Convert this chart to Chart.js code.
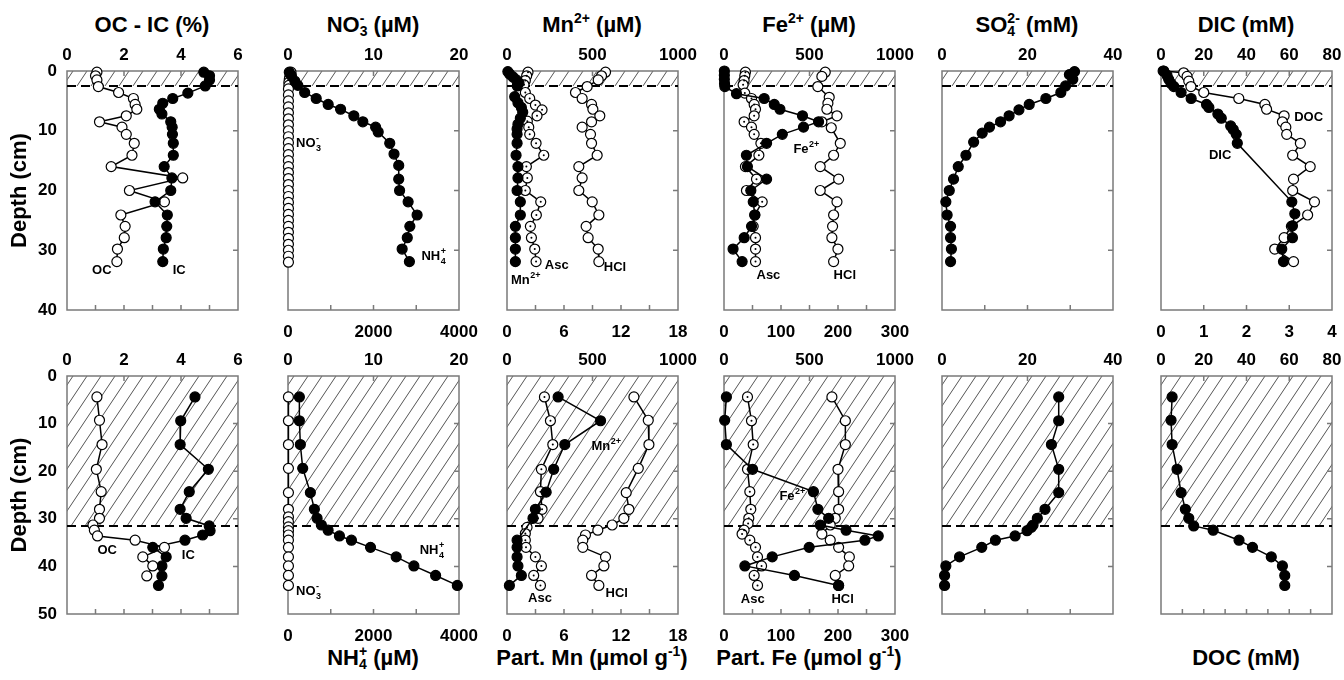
<!DOCTYPE html>
<html>
<head>
<meta charset="utf-8">
<script src="https://cdn.jsdelivr.net/npm/chart.js@4.4.1/dist/chart.umd.min.js"></script>
<style>
  body { margin: 0; background: #fff; width: 1344px; height: 680px; position: relative; overflow: hidden; }
  canvas { position: absolute; }
  .t { position: absolute; transform: translate(-50%, -50%); height: 26px; line-height: 26px;
       font: bold 22px 'Liberation Sans', Arial, sans-serif; white-space: nowrap; color: #000; }
  .t sup { font-size: 14px; vertical-align: 9px; line-height: 0; }
  .ss { display: inline-flex; flex-direction: column; font-size: 14px; line-height: 13px; vertical-align: 9px; }
</style>
</head>
<body>
<div class="t" style="left:152px;top:25px">OC - IC (%)</div>
<div class="t" style="left:373px;top:25px">NO<span class="ss"><span>-</span><span>3</span></span> (µM)</div>
<div class="t" style="left:592px;top:25px">Mn<sup>2+</sup> (µM)</div>
<div class="t" style="left:809px;top:25px">Fe<sup>2+</sup> (µM)</div>
<div class="t" style="left:1027px;top:25px">SO<span class="ss"><span>2-</span><span>4</span></span> (mM)</div>
<div class="t" style="left:1246px;top:25px">DIC (mM)</div>
<div class="t" style="left:373px;top:658px">NH<span class="ss"><span>+</span><span>4</span></span> (µM)</div>
<div class="t" style="left:592px;top:658px">Part. Mn (µmol g<sup>-1</sup>)</div>
<div class="t" style="left:809px;top:658px">Part. Fe (µmol g<sup>-1</sup>)</div>
<div class="t" style="left:1246px;top:658px">DOC (mM)</div>
<script>
// ---------- data, upper core (row 1), depth in cm ----------
var r1OcDepth = [0.2, 0.8, 1.5, 2.6, 3.6, 4.6, 5.6, 6.4, 7.5, 8.5, 9.4, 10.6, 12.1, 14.1, 16, 17.9, 20, 21.9, 24.1, 26, 27.9, 29.8, 31.9]
var r1Oc = [1.05, 1.0, 1.05, 1.1, 1.81, 2.33, 2.39, 2.45, 2.08, 1.14, 1.93, 2.08, 2.36, 2.28, 1.55, 4.06, 2.19, 3.42, 1.89, 2.04, 2.01, 1.77, 1.75]
var r1IcDepth = [0.2, 0.8, 1.5, 2.5, 3.7, 4.6, 5.4, 6.4, 7.2, 8.5, 9.4, 10.6, 12.1, 14.1, 16, 17.9, 20, 21.9, 24.1, 26, 27.9, 29.8, 31.9]
var r1Ic = [4.8, 5.0, 5.0, 4.85, 4.24, 3.71, 3.36, 3.24, 3.33, 3.64, 3.69, 3.7, 3.73, 3.73, 3.41, 3.68, 3.64, 3.09, 3.52, 3.5, 3.48, 3.38, 3.36]

var r1No3Depth = [0.2, 0.6, 1.0, 1.4, 1.9, 2.4, 3, 4, 5, 6, 7, 8, 9, 10, 11, 12, 13, 14, 15, 16, 17, 18, 19, 20, 21, 22, 23, 24, 25, 26, 27, 28, 29, 30, 31, 32]
var r1No3 = [0.35, 0.3, 0.2, 0.15, 0.1, 0.1, 0.05, 0.05, 0.05, 0.05, 0.05, 0.05, 0.05, 0.05, 0.05, 0.05, 0.05, 0.05, 0.05, 0.05, 0.05, 0.05, 0.05, 0.05, 0.05, 0.05, 0.05, 0.05, 0.05, 0.05, 0.05, 0.05, 0.05, 0.05, 0.05, 0.05]
var r1Nh4Depth = [0.2, 0.8, 1.7, 2.4, 3.6, 4.6, 5.6, 6.4, 7.5, 8.5, 9.4, 10.2, 12.1, 13.9, 15.8, 18.1, 20, 21.9, 24.1, 26, 27.9, 29.8, 31.9]
var r1Nh4 = [30, 80, 160, 230, 390, 660, 940, 1230, 1540, 1750, 2050, 2110, 2380, 2480, 2590, 2590, 2610, 2810, 3020, 2850, 2790, 2670, 2840]

var r1MnDepth = [0.1, 0.5, 1.0, 1.5, 2.0, 2.5, 4.3, 5.3, 6.1, 6.9, 7.9, 8.9, 9.7, 10.6, 12.1, 14.1, 16, 17.9, 20, 21.9, 24.1, 26, 27.9, 29.8, 31.9]
var r1Mn = [5, 15, 35, 55, 70, 60, 45, 64, 84, 92, 78, 64, 59, 59, 59, 53, 64, 64, 59, 78, 78, 49, 49, 49, 49]
var r1MnAscDepth = [0.2, 0.8, 1.6, 2.3, 3.6, 4.6, 5.7, 6.5, 7.5, 8.4, 9.4, 10.6, 12.1, 14.1, 16, 17.9, 20, 21.9, 24.1, 26, 27.9, 29.8, 31.9]
var r1MnAsc = [2.21, 2.07, 1.93, 1.79, 1.93, 2.39, 2.99, 3.69, 3.16, 2.14, 2.29, 2.39, 3.06, 3.87, 2.04, 2.14, 1.93, 3.55, 3.09, 2.46, 2.57, 2.92, 3.06]
var r1MnHclDepth = [0.2, 0.8, 1.5, 2.6, 3.6, 4.6, 5.6, 6.4, 7.5, 8.5, 9.4, 10.6, 12.1, 14.1, 16, 17.9, 20, 21.9, 24.1, 26, 27.9, 29.8, 31.9]
var r1MnHcl = [10.37, 9.95, 9.6, 8.44, 7.21, 7.91, 8.9, 9.04, 9.77, 8.9, 7.91, 8.79, 8.9, 9.49, 7.56, 7.91, 7.56, 8.97, 9.67, 8.33, 8.54, 9.6, 9.67]

var r1FeDepth = [0, 0.7, 1.4, 2.1, 2.6, 3.8, 4.6, 5.6, 6.4, 7.5, 8.5, 9.4, 10.6, 12.1, 14.1, 16, 18.1, 20, 21.9, 24.1, 26, 27.9, 29.8, 31.9]
var r1Fe = [2, 2, 2, 3, 5, 73, 235, 294, 327, 459, 553, 465, 341, 249, 131, 137, 249, 157, 171, 180, 161, 118, 53, 106]
var r1FeAscDepth = [0.2, 0.8, 1.6, 2.3, 3.7, 4.6, 5.6, 6.4, 7.5, 8.5, 9.4, 10.6, 12.1, 14.1, 16, 18.1, 20, 21.9, 24.1, 26, 27.9, 29.8, 31.9]
var r1FeAsc = [37.6, 36.5, 35.3, 33.5, 36.5, 48.2, 52.9, 55.3, 52.9, 35.3, 48.2, 52.9, 64.7, 61.2, 37.6, 57, 39.4, 67, 54.1, 51.2, 55.3, 55.3, 55.3]
var r1FeHclDepth = [0.2, 0.9, 2.6, 4.4, 5.4, 6.4, 7.5, 8.5, 9.5, 12.1, 14.1, 16, 18.1, 20, 21.9, 24.1, 26, 27.9, 29.8, 31.9]
var r1FeHcl = [177.6, 171.7, 164.6, 184.6, 182.3, 180.5, 198.2, 171.7, 188.2, 204, 192.3, 168.8, 201.1, 168.8, 198.2, 192.3, 190.5, 189.3, 199.9, 192.3]

var r1So4Depth = [0.1, 0.6, 1.4, 2.5, 3.6, 4.6, 5.6, 6.5, 7.5, 8.5, 9.4, 10.4, 11.9, 14.1, 16, 18.1, 20, 21.9, 24.1, 26, 27.9, 29.8, 31.9]
var r1So4 = [31, 29.8, 30.6, 28.9, 27.8, 24.3, 20.4, 18.0, 15.7, 13.7, 11.1, 9.4, 7.4, 5.6, 3.8, 2.7, 1.7, 0.9, 1.2, 2.0, 2.0, 2.2, 2.0]

var r1DicDepth = [0, 0.7, 1.4, 2.1, 2.6, 3.6, 4.6, 5.6, 6.1, 7.2, 7.9, 9.2, 9.8, 10.6, 12.1, 21.9, 23.9, 25.9, 27.9, 29.8, 31.9]
var r1Dic = [1.3, 2.8, 3.6, 4.7, 6.0, 9.4, 14.1, 21.3, 22.4, 26.6, 28.2, 32.6, 33.8, 35.2, 35.7, 61.2, 62.6, 61.5, 61.5, 56.5, 57.3]
var r1DocDepth = [0, 0.3, 0.9, 1.7, 2.6, 3.6, 4.6, 5.6, 6.4, 7.5, 8.5, 9.4, 10.6, 12.1, 14.1, 16, 18.1, 20, 21.9, 24.1, 26, 27.9, 29.8, 31.9]
var r1Doc = [0.05, 0.53, 0.61, 0.65, 0.7, 1.0, 1.82, 2.43, 2.47, 2.88, 2.84, 2.92, 2.94, 3.26, 3.08, 3.49, 3.1, 3.08, 3.59, 3.43, 3.05, 2.88, 2.66, 3.1]

// ---------- data, lower core (row 2) ----------
var r2OcDepth = [4.4, 9.3, 14.4, 19.6, 24.3, 28, 29.9, 31.3, 32.4, 33.6, 34.5, 36, 38, 39.9, 42]
var r2Oc = [1.05, 1.14, 1.23, 1.03, 1.2, 1.14, 1.14, 0.91, 0.96, 1.07, 2.39, 3.42, 2.66, 3.01, 2.8]
var r2IcDepth = [4.4, 9.4, 14.4, 19.6, 24.3, 28, 29.9, 31.5, 32.5, 33.4, 34.5, 36, 38, 39.9, 42, 44]
var r2Ic = [4.49, 3.99, 3.97, 4.96, 4.29, 3.97, 4.18, 4.99, 5.02, 4.76, 4.14, 3.01, 3.48, 3.33, 3.33, 3.21]

var r2No3Depth = [4.4, 9.4, 14.4, 19.4, 24.5, 28, 29.6, 30.6, 31.7, 32.5, 33.4, 34.5, 36, 38, 39.9, 41.9, 44]
var r2No3 = [0.05, 0.05, 0.05, 0.05, 0.05, 0.05, 0.05, 0.05, 0.05, 0.05, 0.05, 0.05, 0.05, 0.05, 0.05, 0.05, 0.05]
var r2Nh4Depth = [4.4, 9.4, 14.4, 19.4, 24.5, 28, 29.9, 31.3, 32.4, 33.6, 34.5, 36, 38, 39.9, 41.9, 44]
var r2Nh4 = [266, 266, 289, 344, 523, 617, 680, 781, 938, 1203, 1484, 1930, 2531, 2945, 3453, 3961]

var r2MnDepth = [4.4, 9.4, 14.4, 19.6, 24.4, 28, 29.9, 34.5, 36, 38, 39.9, 41.9, 44]
var r2Mn = [299, 547, 338, 273, 229, 166, 152, 59, 59, 59, 64, 84, 14]
var r2MnAscDepth = [4.4, 9.4, 14.4, 19.6, 24.3, 28, 29.9, 31.8, 33.1, 34.5, 36, 38, 39.9, 41.9, 44]
var r2MnAsc = [3.94, 4.57, 4.82, 3.62, 3.52, 3.69, 3.27, 2.11, 1.93, 1.93, 2.0, 2.99, 3.62, 2.81, 3.52]
var r2MnHclDepth = [4.4, 9.3, 14.4, 19.4, 24.5, 28, 29.9, 31.3, 32.4, 33.4, 34.5, 36, 38, 39.9, 41.9, 44]
var r2MnHcl = [13.36, 14.87, 14.94, 13.82, 12.55, 12.83, 12.3, 11.07, 9.56, 8.26, 7.98, 7.98, 10.37, 10.2, 8.9, 9.67]

var r2FeDepth = [4.4, 9.3, 14.4, 19.6, 24.3, 28, 29.9, 31.3, 32.4, 33.6, 34.5, 36, 38, 39.9, 41.9, 44]
var r2Fe = [14, 4, 14, 167, 523, 549, 612, 563, 714, 902, 824, 498, 282, 122, 412, 670]
var r2FeAscDepth = [4.4, 9.4, 14.4, 19.6, 24.3, 28, 29.9, 31, 32.4, 33.2, 34.5, 36, 38, 39.9, 41.9, 44]
var r2FeAsc = [41.2, 48.2, 51.2, 41.2, 45.3, 47, 43.5, 42.3, 35.3, 31.7, 45.3, 55.3, 58.8, 65.9, 52.9, 58.8]
var r2FeHclDepth = [4.4, 9.4, 14.4, 19.6, 24.3, 28, 29.9, 31.3, 33.2, 34.5, 36, 38, 39.9, 41.9, 44]
var r2FeHcl = [189.3, 212.9, 212.9, 200, 201.1, 201.1, 195.2, 186.4, 171.7, 186.4, 201.1, 219.9, 218.7, 195.2, 201.1]

var r2So4Depth = [4.4, 9.4, 14.4, 19.6, 24.5, 28, 29.9, 31.3, 31.8, 32.5, 33.6, 34.5, 36, 38, 39.9, 41.9, 44]
var r2So4 = [27.3, 27.3, 25.6, 27.3, 27.3, 24.1, 22.3, 21.3, 20.9, 19.9, 17.1, 12.5, 9.3, 4.1, 0.9, 0.6, 0.6]

var r2DicDepth = [4.4, 9.3, 14.4, 19.6, 24.5, 28, 29.9, 31.5, 32.4, 34.5, 36, 38, 39.9, 41.9, 44]
var r2Dic = [5.2, 4.7, 5.2, 7.5, 9.4, 11.4, 13.0, 15.3, 24.4, 36.5, 42.8, 51.6, 56.8, 57.9, 57.9]

// axis ranges [min, max, label step]
var ocAxis = [0, 6, 2]
var no3Axis = [0, 20, 10]
var nh4Axis = [0, 4000, 2000]
var mnAxis = [0, 1000, 500]
var partMnAxis = [0, 18, 6]
var feAxis = [0, 1000, 500]
var partFeAxis = [0, 300, 100]
var so4Axis = [0, 40, 20]
var dicAxis = [0, 80, 20]
var docAxis = [0, 4, 1]

// hatched (shaded) layer bottom, cm
var hatchDepth = [2.5, 31.5]
var depthMax = [40, 50]

// ---------- layout ----------
var FONT = "'Liberation Sans', Arial, Helvetica, sans-serif"
Chart.defaults.font.family = FONT
Chart.defaults.color = '#000'

var colLeft = [67, 288, 507, 724, 942, 1161]
var rowTop = [71, 376]
var plotW = 171
var plotH = [239, 238]

function serie(depth, vals, kind, axis){
    return {
        data: depth.map(function(d, i){ return {x: vals[i], y: d} }),
        xAxisID: axis || 'x', yAxisID: 'y',
        showLine: true, borderColor: '#000', borderWidth: 1.5,
        pointRadius: 5, pointBorderColor: '#000', pointBorderWidth: 1.2,
        pointBackgroundColor: kind == 'filled' ? '#000' : '#fff',
        centerDot: kind == 'dot',
        clip: false
    }
}

// hatch, dashed boundary, frame and inward tick marks
var framePlugin = {
    id: 'frame',
    beforeDatasetsDraw: function(chart, args, o){
        var ctx = chart.ctx, a = chart.chartArea
        var ys = chart.scales.y, xt = chart.scales.x, xb = chart.scales.xb
        var yh = ys.getPixelForValue(o.hatch)
        var h = yh - a.top, run = h / 1.5

        ctx.save()
        ctx.beginPath(); ctx.rect(a.left, a.top, a.right - a.left, h); ctx.clip()
        ctx.strokeStyle = '#555'; ctx.lineWidth = 1
        ctx.beginPath()
        for (var x = a.left + 6; x < a.right + run; x += 14){
            ctx.moveTo(x, a.top); ctx.lineTo(x - run, yh)
        }
        ctx.stroke()
        ctx.restore()

        ctx.save()
        ctx.strokeStyle = '#7a7a7a'; ctx.lineWidth = 1.5
        ctx.strokeRect(a.left, a.top, a.right - a.left, a.bottom - a.top)
        ctx.beginPath()
        ys.ticks.forEach(function(t){
            if (t.value > ys.min && t.value < ys.max){
                var p = ys.getPixelForValue(t.value)
                ctx.moveTo(a.right, p); ctx.lineTo(a.right - 5, p)
            }
        })
        xt.ticks.forEach(function(t){
            if (t.value > xt.min && t.value < xt.max){
                var p = xt.getPixelForValue(t.value)
                ctx.moveTo(p, a.top); ctx.lineTo(p, a.top + 5)
            }
        })
        for (var v = xb.min + o.minor; v < xb.max - 1e-9; v += o.minor){
            var p = xb.getPixelForValue(v)
            ctx.moveTo(p, a.bottom); ctx.lineTo(p, a.bottom - 5)
        }
        ctx.stroke()

        ctx.strokeStyle = '#000'; ctx.lineWidth = 2; ctx.setLineDash([9, 5])
        ctx.beginPath(); ctx.moveTo(a.left, yh); ctx.lineTo(a.right, yh); ctx.stroke()
        ctx.restore()
    },
    // small dot inside the Asc circles
    afterDatasetDraw: function(chart, args){
        var ds = chart.data.datasets[args.index]
        if (!ds.centerDot) return
        var ctx = chart.ctx
        ctx.save()
        ctx.fillStyle = '#000'
        args.meta.data.forEach(function(el){
            ctx.beginPath(); ctx.arc(el.x, el.y, 1, 0, 2*Math.PI); ctx.fill()
        })
        ctx.restore()
    }
}

// in-plot labels with sub / superscripts
var notePlugin = {
    id: 'notes',
    afterDatasetsDraw: function(chart, args, o){
        var ctx = chart.ctx
        ;(o.items || []).forEach(function(n){
            var x = chart.scales[n.axis || 'x'].getPixelForValue(n.x)
            var y = chart.scales.y.getPixelForValue(n.y)
            var subX = null
            ctx.save()
            ctx.fillStyle = '#000'; ctx.textBaseline = 'middle'; ctx.textAlign = 'left'
            n.parts.forEach(function(p){
                var txt = p[0], k = p[1], w
                if (k == 'n'){
                    ctx.font = 'bold 13px ' + FONT
                    ctx.fillText(txt, x, y); x += ctx.measureText(txt).width; subX = null
                } else if (k == 'sub'){
                    ctx.font = 'bold 9px ' + FONT
                    subX = x; ctx.fillText(txt, x + 0.5, y + 5); x += ctx.measureText(txt).width + 1
                } else {
                    ctx.font = 'bold 9px ' + FONT
                    var sx = subX !== null ? subX : x
                    w = ctx.measureText(txt).width
                    ctx.fillText(txt, sx + 0.5, y - 5); x = Math.max(x, sx + w + 1)
                }
            })
            ctx.restore()
        })
    }
}

function xAxis(pos, ax, show, size, pad){
    return {
        type: 'linear', position: pos, min: ax[0], max: ax[1],
        ticks: { display: show, stepSize: ax[2], autoSkip: false, maxRotation: 0, padding: pad,
                 font: { size: 17, weight: 'bold' }, color: '#000',
                 callback: function(v){ return String(v) } },
        grid: { display: false, drawTicks: false }, border: { display: false },
        afterFit: function(s){ s.height = size }
    }
}

function panel(row, col, cfg){
    var L = col == 0 ? 67 : 22, T = 30, R = 32, B = 36
    var cv = document.createElement('canvas')
    cv.width = L + plotW + R; cv.height = T + plotH[row] + B
    cv.style.left = (colLeft[col] - L) + 'px'
    cv.style.top = (rowTop[row] - T) + 'px'
    document.body.appendChild(cv)
    new Chart(cv, {
        type: 'scatter',
        data: { datasets: cfg.sets },
        options: {
            responsive: false, animation: false, events: [],
            layout: { padding: { right: R } },
            plugins: {
                legend: { display: false }, tooltip: { enabled: false },
                frame: { hatch: hatchDepth[row], minor: cfg.minor },
                notes: { items: cfg.notes || [] }
            },
            scales: {
                x: xAxis('top', cfg.top, true, T, 5),
                xb: xAxis('bottom', cfg.bot || cfg.top, !!cfg.bot, B, 12),
                y: {
                    type: 'linear', position: 'left', reverse: true, min: 0, max: depthMax[row],
                    ticks: { display: col == 0, stepSize: 10, padding: 10, font: { size: 17, weight: 'bold' }, color: '#000' },
                    grid: { display: false, drawTicks: false }, border: { display: false },
                    title: { display: col == 0, text: 'Depth (cm)', color: '#000',
                             font: { size: 22, weight: 'bold' }, padding: { top: 7, bottom: 0 } },
                    afterFit: function(s){ s.width = L }
                }
            }
        },
        plugins: [framePlugin, notePlugin]
    })
}

function note(x, y, parts, axis){ return { x: x, y: y, parts: parts, axis: axis } }

// ---------- row 1 ----------
panel(0, 0, { top: ocAxis, minor: 1,
    sets: [serie(r1IcDepth, r1Ic, 'filled'), serie(r1OcDepth, r1Oc, 'open')],
    notes: [note(0.88, 33.3, [['OC', 'n']]), note(3.71, 33.3, [['IC', 'n']])] })
panel(0, 1, { top: no3Axis, bot: nh4Axis, minor: 1000,
    sets: [serie(r1Nh4Depth, r1Nh4, 'filled', 'xb'), serie(r1No3Depth, r1No3, 'open')],
    notes: [note(0.94, 12.2, [['NO', 'n'], ['3', 'sub'], ['-', 'sup']]),
            note(15.6, 31.1, [['NH', 'n'], ['4', 'sub'], ['+', 'sup']])] })
panel(0, 2, { top: mnAxis, bot: partMnAxis, minor: 3,
    sets: [serie(r1MnDepth, r1Mn, 'filled'), serie(r1MnAscDepth, r1MnAsc, 'dot', 'xb'), serie(r1MnHclDepth, r1MnHcl, 'open', 'xb')],
    notes: [note(221, 32.5, [['Asc', 'n']]), note(566, 32.8, [['HCl', 'n']]), note(23, 35, [['Mn', 'n'], ['2+', 'sup']])] })
panel(0, 3, { top: feAxis, bot: partFeAxis, minor: 50,
    sets: [serie(r1FeDepth, r1Fe, 'filled'), serie(r1FeAscDepth, r1FeAsc, 'dot', 'xb'), serie(r1FeHclDepth, r1FeHcl, 'open', 'xb')],
    notes: [note(406, 13.1, [['Fe', 'n'], ['2+', 'sup']]), note(190, 34.2, [['Asc', 'n']]), note(641, 34.2, [['HCl', 'n']])] })
panel(0, 4, { top: so4Axis, minor: 10,
    sets: [serie(r1So4Depth, r1So4, 'filled')] })
panel(0, 5, { top: dicAxis, bot: docAxis, minor: 1,
    sets: [serie(r1DicDepth, r1Dic, 'filled'), serie(r1DocDepth, r1Doc, 'open', 'xb')],
    notes: [note(62.3, 7.8, [['DOC', 'n']]), note(22.4, 14.2, [['DIC', 'n']])] })

// ---------- row 2 ----------
panel(1, 0, { top: ocAxis, minor: 1,
    sets: [serie(r2OcDepth, r2Oc, 'open'), serie(r2IcDepth, r2Ic, 'filled')],
    notes: [note(1.07, 36.7, [['OC', 'n']]), note(4.03, 37.6, [['IC', 'n']])] })
panel(1, 1, { top: no3Axis, bot: nh4Axis, minor: 1000,
    sets: [serie(r2Nh4Depth, r2Nh4, 'filled', 'xb'), serie(r2No3Depth, r2No3, 'open')],
    notes: [note(15.4, 36.6, [['NH', 'n'], ['4', 'sub'], ['+', 'sup']]),
            note(0.94, 45.3, [['NO', 'n'], ['3', 'sub'], ['-', 'sup']])] })
panel(1, 2, { top: mnAxis, bot: partMnAxis, minor: 3,
    sets: [serie(r2MnDepth, r2Mn, 'filled'), serie(r2MnAscDepth, r2MnAsc, 'dot', 'xb'), serie(r2MnHclDepth, r2MnHcl, 'open', 'xb')],
    notes: [note(494, 14.8, [['Mn', 'n'], ['2+', 'sup']]), note(123, 46.7, [['Asc', 'n']]), note(576, 45.7, [['HCl', 'n']])] })
panel(1, 3, { top: feAxis, bot: partFeAxis, minor: 50,
    sets: [serie(r2FeDepth, r2Fe, 'filled'), serie(r2FeAscDepth, r2FeAsc, 'dot', 'xb'), serie(r2FeHclDepth, r2FeHcl, 'open', 'xb')],
    notes: [note(324, 25.4, [['Fe', 'n'], ['2+', 'sup']]), note(98, 47, [['Asc', 'n']]), note(628, 47, [['HCl', 'n']])] })
panel(1, 4, { top: so4Axis, minor: 10,
    sets: [serie(r2So4Depth, r2So4, 'filled')] })
panel(1, 5, { top: dicAxis, minor: 10,
    sets: [serie(r2DicDepth, r2Dic, 'filled')] })
</script>
</body>
</html>
